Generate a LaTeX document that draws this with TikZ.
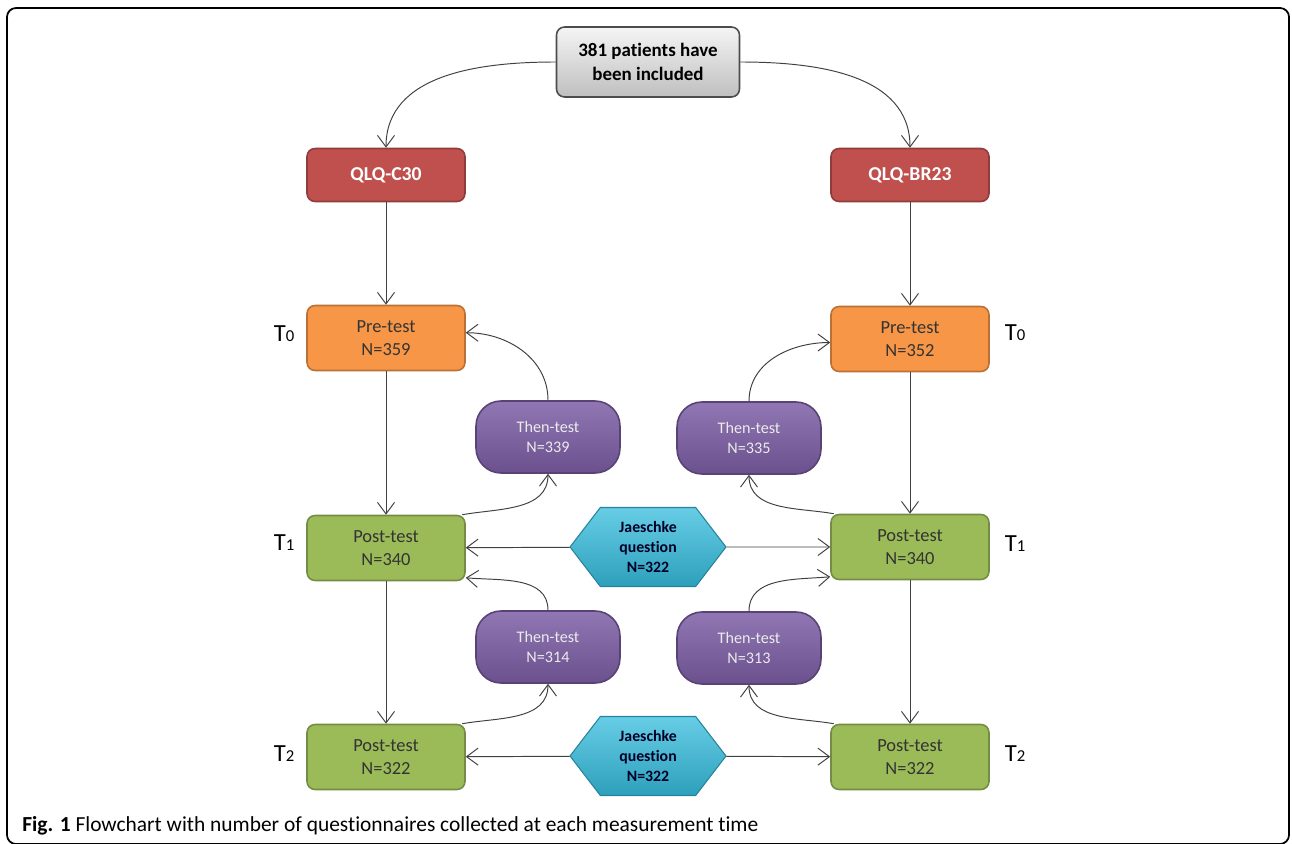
\documentclass[tikz,border=0pt]{standalone}
\usepackage{fontspec}
\setmainfont{Carlito}[Ligatures=NoCommon]
\usetikzlibrary{shapes, arrows.meta, positioning, calc}

\definecolor{startgray}{HTML}{BFBFBF}
\definecolor{qlqred}{HTML}{C0504D}
\definecolor{preorange}{HTML}{F79646}
\definecolor{thenpurple}{HTML}{7D5FA6}
\definecolor{postgreen}{HTML}{9BBB59}
\definecolor{jaecyan}{HTML}{35BCDD}
\definecolor{linegray}{HTML}{404040}

\begin{document}
\begin{tikzpicture}[x=0.02cm, y=0.02cm,
    box/.style={rounded corners=0.16cm, minimum width=3.16cm, minimum height=1.3cm,
        align=center, line width=0.9pt, font=\fontsize{10.5}{13}\selectfont},
    startbox/.style={box, minimum width=3.66cm, minimum height=1.4cm, draw=black!70,
        top color=white!92!gray, bottom color=startgray, font=\bfseries\fontsize{10.8}{13.5}\selectfont},
    qlqbox/.style={box, minimum height=1.06cm, fill=qlqred, draw=qlqred!75!black,
        text=white, font=\bfseries\fontsize{11.2}{13}\selectfont},
    prebox/.style={box, fill=preorange, draw=preorange!75!black, text=black!80},
    postbox/.style={box, fill=postgreen, draw=postgreen!75!black, text=black!80},
    thenbox/.style={box, rounded corners=0.5cm, minimum width=2.88cm, minimum height=1.44cm,
        top color=thenpurple!85!white, bottom color=thenpurple!85!black, draw=thenpurple!70!black,
        text=white!92!black, font=\fontsize{9.2}{11.5}\selectfont},
    jaebox/.style={signal, signal to=west and east, signal pointer angle=105,
        minimum width=3.12cm, minimum height=1.58cm, align=center, inner sep=1pt,
        top color=jaecyan!75!white, bottom color=jaecyan!85!black, draw=jaecyan!70!black, line width=0.6pt,
        text=black!85!blue, font=\bfseries\fontsize{9}{11.5}\selectfont},
    tlabel/.style={anchor=base, font=\fontsize{14}{16}\selectfont},
    arr/.style={-{Straight Barb[length=2.3mm, width=3.4mm]}, draw=linegray, line width=0.55pt}
]
    \useasboundingbox (0,0) rectangle (1292,843);
    \draw[line width=1pt, rounded corners=0.18cm] (7,-1) rectangle (1289,835);

    % Start and questionnaires
    \node[startbox] (start) at (648,781) {381 patients have\\been included};
    \node[qlqbox] (c30) at (386,668) {QLQ-C30};
    \node[qlqbox] (br23) at (910,668) {QLQ-BR23};

    % Left column
    \node[prebox] (preL) at (386,505) {Pre-test\\N=359};
    \node[postbox] (postLa) at (386,295) {Post-test\\N=340};
    \node[postbox] (postLb) at (386,86) {Post-test\\N=322};

    % Right column
    \node[prebox] (preR) at (910,504) {Pre-test\\N=352};
    \node[postbox] (postRa) at (910,296) {Post-test\\N=340};
    \node[postbox] (postRb) at (910,86) {Post-test\\N=322};

    % Then-tests
    \node[thenbox] (thenLa) at (548,406) {Then-test\\N=339};
    \node[thenbox] (thenRa) at (749,405) {Then-test\\N=335};
    \node[thenbox] (thenLb) at (548,196) {Then-test\\N=314};
    \node[thenbox] (thenRb) at (749,195) {Then-test\\N=313};

    % Jaeschke questions
    \node[jaebox] (jaeA) at (648,296) {Jaeschke\\question\\N=322};
    \node[jaebox] (jaeB) at (648,87) {Jaeschke\\question\\N=322};

    % Time labels
    \node[tlabel] (t0L) at (284,501) {T{\fontsize{9.5}{11}\selectfont 0}};
    \node[tlabel] (t0R) at (1015,502) {T{\fontsize{9.5}{11}\selectfont 0}};
    \node[tlabel] (t1L) at (284,293) {T{\fontsize{9.5}{11}\selectfont 1}};
    \node[tlabel] (t1R) at (1015,292) {T{\fontsize{9.5}{11}\selectfont 1}};
    \node[tlabel] (t2L) at (284,82) {T{\fontsize{9.5}{11}\selectfont 2}};
    \node[tlabel] (t2R) at (1015,82) {T{\fontsize{9.5}{11}\selectfont 2}};

    % Arrows from start
    \draw[arr] (start.west) to[out=180, in=90] (c30.north);
    \draw[arr] (start.east) to[out=0, in=90] (br23.north);

    % Vertical arrows
    \draw[arr] (c30) -- (preL);
    \draw[arr] (preL) -- (postLa);
    \draw[arr] (postLa) -- (postLb);
    \draw[arr] (br23) -- (preR);
    \draw[arr] (preR) -- (postRa);
    \draw[arr] (postRa) -- (postRb);

    % Then-test loops, left
    \draw[arr] ([xshift=-2pt]postLa.north east) to[out=10, in=-90] (thenLa.south);
    \draw[arr] (thenLa.north) to[out=90, in=0] ([yshift=3pt]preL.east);
    \draw[arr] ([xshift=-2pt]postLb.north east) to[out=10, in=-90] (thenLb.south);
    \draw[arr] (thenLb.north) to[out=90, in=-5] ([yshift=2pt]postLa.south east);

    % Then-test loops, right
    \draw[arr] ([xshift=2pt]postRa.north west) to[out=170, in=-90] (thenRa.south);
    \draw[arr] (thenRa.north) to[out=90, in=180] ([yshift=-2pt]preR.west);
    \draw[arr] ([xshift=2pt]postRb.north west) to[out=170, in=-90] (thenRb.south);
    \draw[arr] (thenRb.north) to[out=90, in=185] ([yshift=2pt]postRa.south west);

    % Jaeschke arrows
    \draw[arr] (jaeA) -- (postLa);
    \draw[arr] (jaeA) -- (postRa);
    \draw[arr] (jaeB) -- (postLb);
    \draw[arr] (jaeB) -- (postRb);

    % Caption
    \node[anchor=base west, inner sep=0pt, font=\fontsize{12.2}{14}\selectfont] (caption) at (22,12)
        {\textbf{Fig. 1} Flowchart with number of questionnaires collected at each measurement time};
\end{tikzpicture}
\end{document}
